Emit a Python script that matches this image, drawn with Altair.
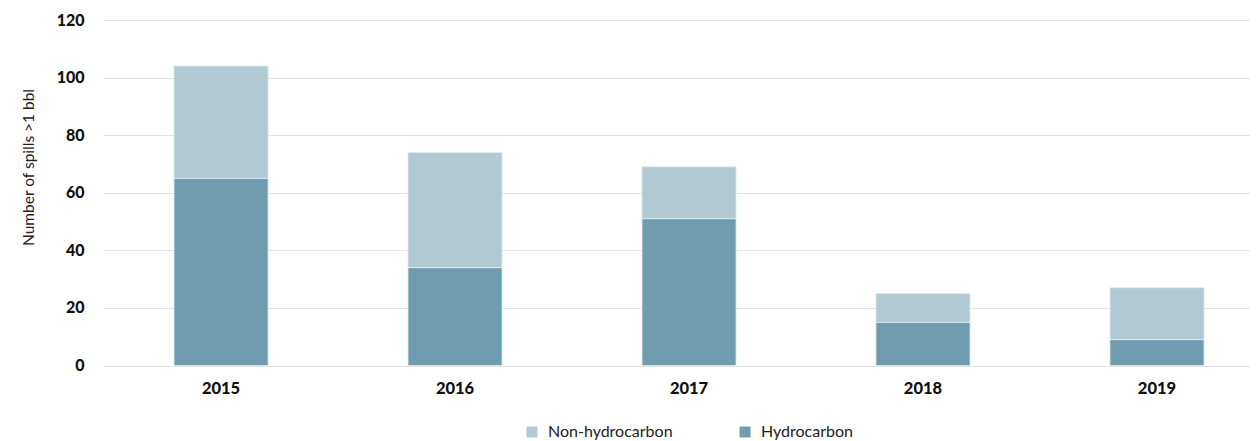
import altair as alt
import pandas as pd

years = ["2015", "2016", "2017", "2018", "2019"]
hydrocarbon = [65, 34, 51, 15, 9]
non_hydrocarbon = [39, 40, 18, 10, 18]
series = ["Non-hydrocarbon", "Hydrocarbon"]
colors = ["#b0c9d2", "#6f9daf"]

rows = []
for y, h, n in zip(years, hydrocarbon, non_hydrocarbon):
    rows.append({"year": y, "type": "Hydrocarbon", "value": h, "order": 0})
    rows.append({"year": y, "type": "Non-hydrocarbon", "value": n, "order": 1})
df = pd.DataFrame(rows)

FONT = "Lato"

chart = alt.Chart(df).mark_bar(stroke="#dfeaee", strokeWidth=0.8).encode(
    x=alt.X("year:N", sort=years, title=None,
            scale=alt.Scale(paddingInner=0.598, paddingOuter=0.25, align=0.607),
            axis=alt.Axis(labelAngle=0, labelFont=FONT, labelFontWeight=900,
                          labelFontSize=16.5, labelColor="#111", labelPadding=15,
                          domain=False, ticks=False, grid=False)),
    y=alt.Y("value:Q", stack="zero", title="Number of spills >1 bbl",
            scale=alt.Scale(domain=[0, 120], nice=False),
            axis=alt.Axis(values=[0, 20, 40, 60, 80, 100, 120], labelFont=FONT,
                          labelFontWeight=900, labelFontSize=16, labelColor="#111",
                          labelPadding=19, domain=False, ticks=False,
                          gridColor="#e3e3e3", gridWidth=1.2,
                          titleFont=FONT, titleFontWeight="normal", titleFontSize=15.5,
                          titleColor="#222", titleAngle=270, titleX=-75, titleY=147,
                          titleAlign="center", titleBaseline="middle")),
    color=alt.Color("type:N", sort=series,
                    scale=alt.Scale(domain=series, range=colors),
                    legend=alt.Legend(title=None, orient="none", direction="horizontal",
                                      legendX=421, legendY=404, symbolType="square",
                                      symbolSize=121, symbolStrokeWidth=0,
                                      labelFont=FONT, labelFontSize=16,
                                      labelColor="#222", labelOffset=8,
                                      columnPadding=64)),
    order=alt.Order("order:Q"),
).properties(
    width=1147, height=345.5,
    autosize=alt.AutoSizeParams(type="none"),
    padding={"left": 95, "top": 12, "right": 0, "bottom": 75},
).configure_view(stroke=None)

chart.save("out.html", embed_options={"renderer": "svg", "actions": False})
